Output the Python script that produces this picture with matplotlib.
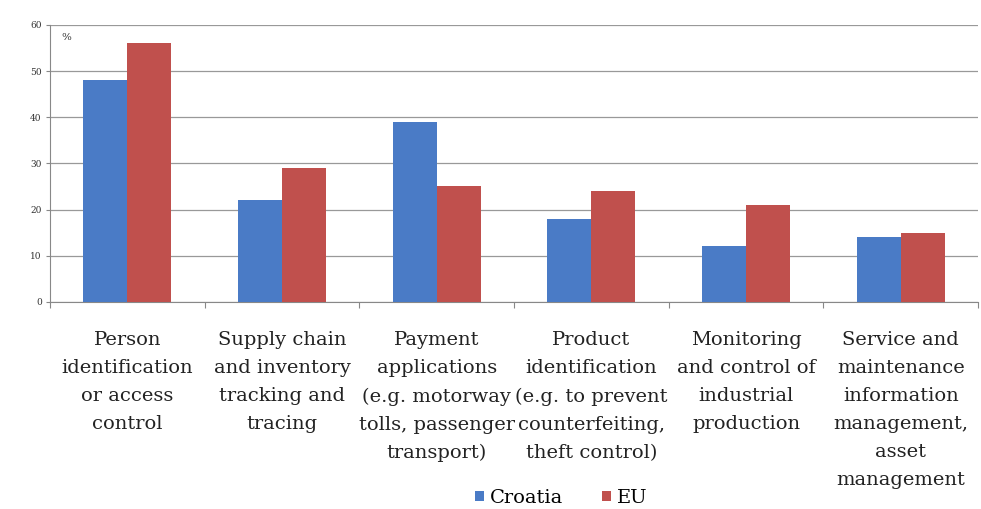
import numpy as np
import matplotlib
matplotlib.use("Agg")
import matplotlib.pyplot as plt

# chart data
categories = [
    "Person\nidentification\nor access\ncontrol",
    "Supply chain\nand inventory\ntracking and\ntracing",
    "Payment\napplications\n(e.g. motorway\ntolls, passenger\ntransport)",
    "Product\nidentification\n(e.g. to prevent\ncounterfeiting,\ntheft control)",
    "Monitoring\nand control of\nindustrial\nproduction",
    "Service and\nmaintenance\ninformation\nmanagement,\nasset\nmanagement",
]
croatia = [48, 22, 39, 18, 12, 14]
eu = [56, 29, 25, 24, 21, 15]
yticks = [0, 10, 20, 30, 40, 50, 60]

plt.rcParams['font.family'] = ['DejaVu Serif']

fig = plt.figure(figsize=(9.81, 5.09), dpi=100)
ax = fig.add_axes([0.051, 0.407, 0.946, 0.544])

x = np.arange(len(categories))
w = 0.285
ax.bar(x - w / 2, croatia, w, color='#4A7BC6', label='Croatia', zorder=3)
ax.bar(x + w / 2, eu, w, color='#C0504D', label='EU', zorder=3)

ax.set_xlim(-0.5, len(categories) - 0.5)
ax.set_ylim(0, 60)
ax.set_yticks(yticks)
ax.set_yticklabels([str(t) for t in yticks], fontsize=6.5, color='#333333')
ax.yaxis.grid(True, color='#999999', linewidth=0.9, zorder=0)
ax.tick_params(axis='y', length=3, color='#888888', pad=3)

# category boundary ticks on x axis
ax.set_xticks(np.arange(-0.5, len(categories) + 0.5, 1.0))
ax.set_xticklabels([])
ax.tick_params(axis='x', length=4, color='#888888', direction='out')

for i, lab in enumerate(categories):
    ax.text(i, -6.3, lab, ha='center', va='top', fontsize=14,
            linespacing=1.72, color='#222222', transform=ax.transData)

for s in ['top', 'right']:
    ax.spines[s].set_visible(False)
ax.spines['left'].set_color('#888888')
ax.spines['bottom'].set_color('#888888')

ax.text(0.012, 0.97, '%', transform=ax.transAxes, ha='left', va='top',
        fontsize=7.5, color='#333333')

leg = fig.legend(loc='lower center', bbox_to_anchor=(0.572, -0.03), ncol=2,
                 frameon=False, fontsize=14, handlelength=0.45,
                 handleheight=0.45, handletextpad=0.3, columnspacing=2.0)

fig.savefig('out.png', dpi=100)
